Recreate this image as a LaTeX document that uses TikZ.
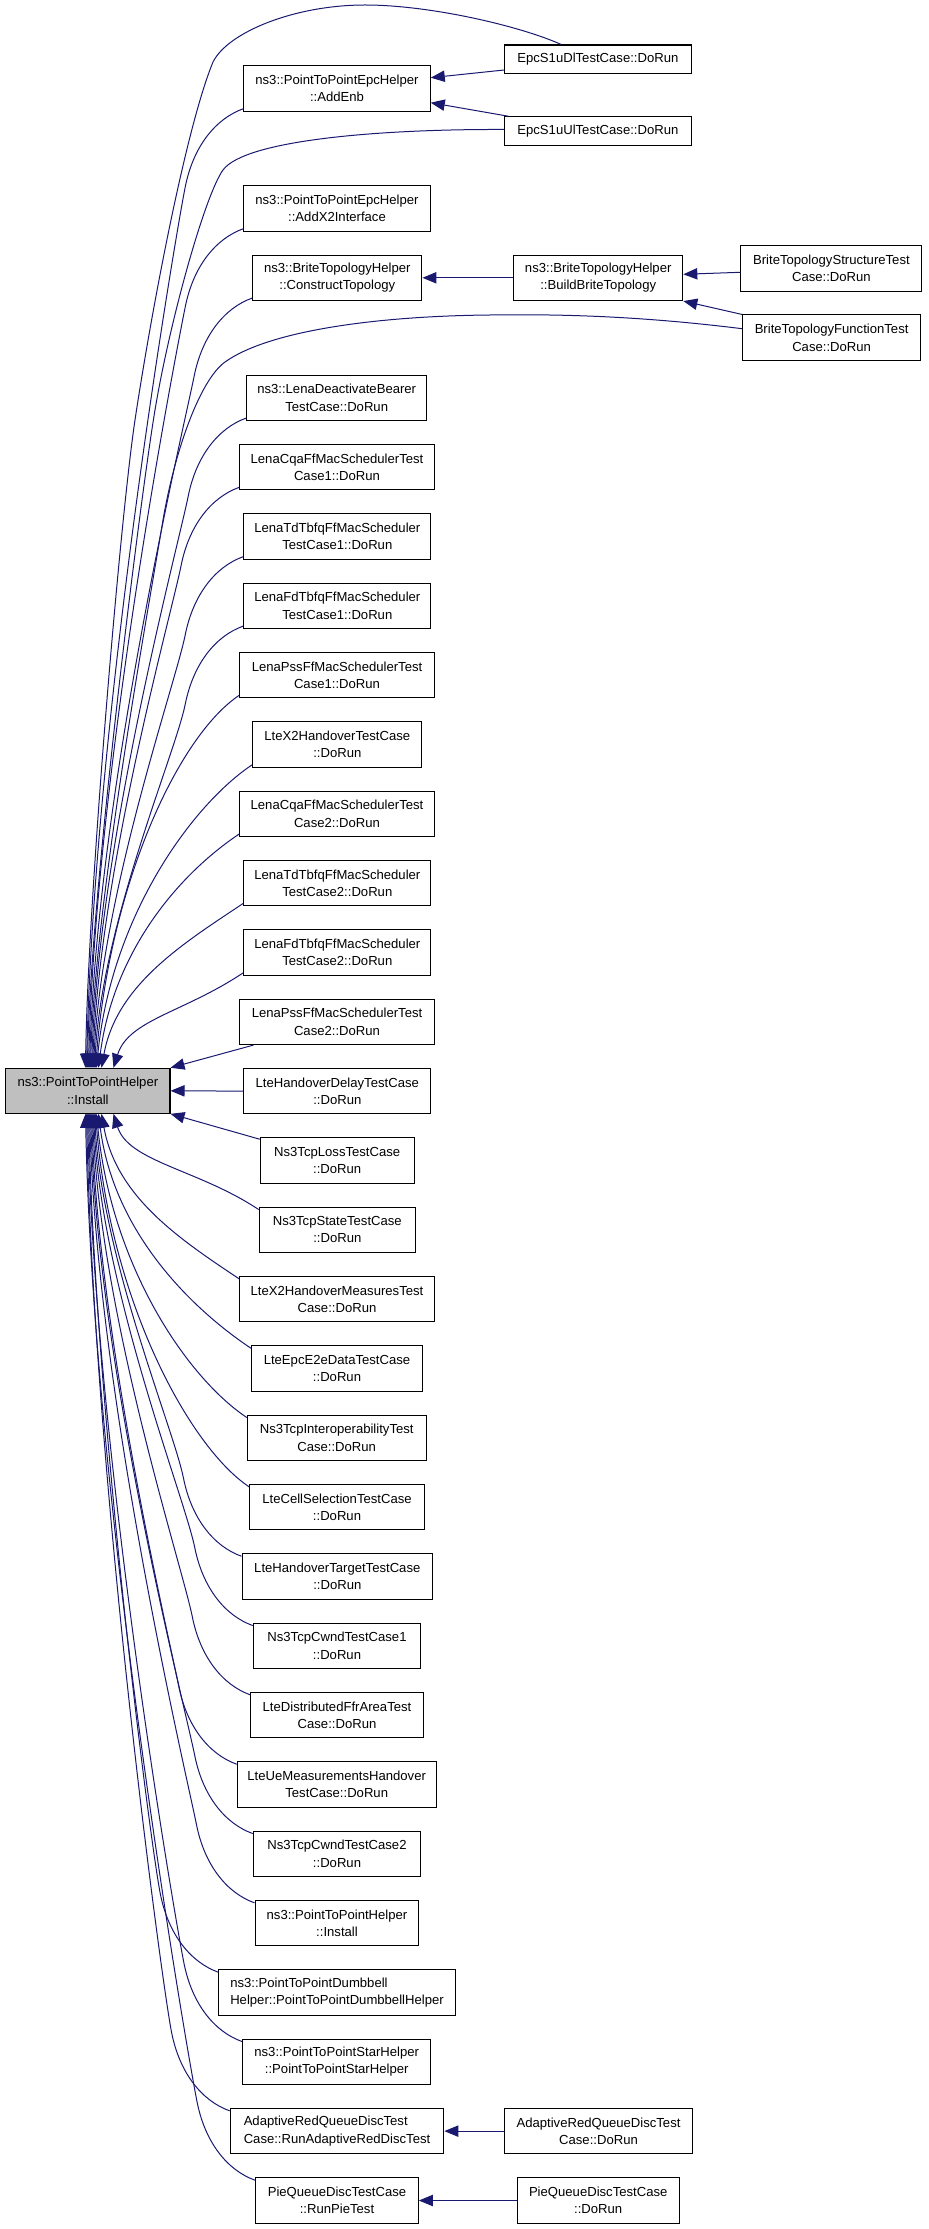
\documentclass[tikz,border=0pt]{standalone}
\usepackage{fontspec}
\setmainfont{Liberation Sans}
\usetikzlibrary{arrows.meta,calc}
\definecolor{edgec}{HTML}{191970}
\definecolor{mainfill}{HTML}{BFBFBF}
\newcommand\pfanup[3]{\draw[calledge] ($(#1.south west)+(0,-3)$) .. controls +(-28,10) and +(8,-40) .. ++(-58,78) .. controls +(-10,50) and +(8,-#3) .. ($(install.north west)+(#2,0)$);}
\newcommand\pfandown[3]{\draw[calledge] ($(#1.north west)+(0,3)$) .. controls +(-28,-10) and +(8,40) .. ++(-58,-78) .. controls +(-10,-50) and +(8,#3) .. ($(install.south west)+(#2,0)$);}
\newcommand\pnearup[3]{\draw[calledge] ($(#1.south west)+(0,-3)$) .. controls +(-60,40) and +(15,-#3) .. ($(install.north west)+(#2,0)$);}
\newcommand\pneardown[3]{\draw[calledge] ($(#1.north west)+(0,3)$) .. controls +(-60,-40) and +(15,#3) .. ($(install.south west)+(#2,0)$);}
\begin{document}
\begin{tikzpicture}[x=0.75pt,y=-0.75pt,
  box/.style={draw=black, fill=white, line width=0.8pt, inner sep=0pt, align=center,
    minimum height=34.1pt, font=\fontsize{9.83}{12.98}\selectfont},
  onebox/.style={box, minimum height=21.3pt},
  mainbox/.style={box, fill=mainfill},
  calledge/.style={draw=edgec, line width=0.75pt, -{Triangle[length=10.5pt,width=8.5pt]}}]
\useasboundingbox (0,0) rectangle (928,2229);
% main node
\node[mainbox, minimum width=123.2pt, minimum height=33.75pt] (install) at (87.85,1090.8) {ns3::PointToPointHelper\\::Install};
% second column
\node[box, minimum width=139.8pt] (addenb) at (337,88.5) {ns3::PointToPointEpcHelper\\::AddEnb};
\node[box, minimum width=139.8pt] (addx2) at (337,208.5) {ns3::PointToPointEpcHelper\\::AddX2Interface};
\node[box, minimum width=126.9pt] (construct) at (337.3,277.8) {ns3::BriteTopologyHelper\\::ConstructTopology};
\node[box, minimum width=134.9pt] (lenadeact) at (336.7,397.8) {ns3::LenaDeactivateBearer\\TestCase::DoRun};
\node[box, minimum width=146pt] (lenacqa1) at (337,467.1) {LenaCqaFfMacSchedulerTest\\Case1::DoRun};
\node[box, minimum width=140.25pt] (lenatd1) at (337.3,536.4) {LenaTdTbfqFfMacScheduler\\TestCase1::DoRun};
\node[box, minimum width=140.25pt] (lenafd1) at (337.3,605.8) {LenaFdTbfqFfMacScheduler\\TestCase1::DoRun};
\node[box, minimum width=146pt] (lenapss1) at (337,675.1) {LenaPssFfMacSchedulerTest\\Case1::DoRun};
\node[box, minimum width=126.9pt] (ltex2) at (337.3,744.5) {LteX2HandoverTestCase\\::DoRun};
\node[box, minimum width=146pt] (lenacqa2) at (337,813.8) {LenaCqaFfMacSchedulerTest\\Case2::DoRun};
\node[box, minimum width=140.25pt] (lenatd2) at (337.3,883.1) {LenaTdTbfqFfMacScheduler\\TestCase2::DoRun};
\node[box, minimum width=140.25pt] (lenafd2) at (337.3,952.5) {LenaFdTbfqFfMacScheduler\\TestCase2::DoRun};
\node[box, minimum width=146pt] (lenapss2) at (337,1021.8) {LenaPssFfMacSchedulerTest\\Case2::DoRun};
\node[box, minimum width=140.25pt] (ltehodelay) at (337.3,1091.1) {LteHandoverDelayTestCase\\::DoRun};
\node[box, minimum width=115.3pt] (ns3tcploss) at (337.2,1160.5) {Ns3TcpLossTestCase\\::DoRun};
\node[box, minimum width=117.2pt] (ns3tcpstate) at (337.3,1229.8) {Ns3TcpStateTestCase\\::DoRun};
\node[box, minimum width=146pt] (ltex2meas) at (337,1299.1) {LteX2HandoverMeasuresTest\\Case::DoRun};
\node[box, minimum width=128.25pt] (lteepc) at (337,1368.5) {LteEpcE2eDataTestCase\\::DoRun};
\node[box, minimum width=134pt] (ns3tcpinterop) at (336.7,1437.8) {Ns3TcpInteroperabilityTest\\Case::DoRun};
\node[box, minimum width=131pt] (ltecellsel) at (337,1507.1) {LteCellSelectionTestCase\\::DoRun};
\node[box, minimum width=142.9pt] (ltehotarget) at (337.3,1576.5) {LteHandoverTargetTestCase\\::DoRun};
\node[box, minimum width=125.6pt] (ns3tcpcwnd1) at (337,1645.8) {Ns3TcpCwndTestCase1\\::DoRun};
\node[box, minimum width=129.2pt] (ltedistffr) at (337,1715.1) {LteDistributedFfrAreaTest\\Case::DoRun};
\node[box, minimum width=149.1pt] (lteuemeas) at (336.7,1784.5) {LteUeMeasurementsHandover\\TestCase::DoRun};
\node[box, minimum width=125.6pt] (ns3tcpcwnd2) at (337,1853.8) {Ns3TcpCwndTestCase2\\::DoRun};
\node[box, minimum width=122.9pt] (p2pinstall) at (337,1923.1) {ns3::PointToPointHelper\\::Install};
\node[box, align=left, minimum width=177.1pt] (dumbbell) at (337,1992.5) {ns3::PointToPointDumbbell\\Helper::PointToPointDumbbellHelper};
\node[box, minimum width=141.2pt] (star) at (336.7,2061.8) {ns3::PointToPointStarHelper\\::PointToPointStarHelper};
\node[box, align=left, minimum width=160.2pt] (adaptivered) at (337,2131.1) {AdaptiveRedQueueDiscTest\\Case::RunAdaptiveRedDiscTest};
\node[box, minimum width=122pt] (piequeue) at (337,2200.5) {PieQueueDiscTestCase\\::RunPieTest};
% third column
\node[onebox, minimum width=139.8pt] (epcdl) at (597.9,59.2) {EpcS1uDlTestCase::DoRun};
\node[onebox, minimum width=139.8pt] (epcul) at (597.9,131) {EpcS1uUlTestCase::DoRun};
\node[box, minimum width=126.9pt] (buildbrite) at (598.2,277.8) {ns3::BriteTopologyHelper\\::BuildBriteTopology};
\node[box, minimum width=140.7pt] (adaptivereddorun) at (598.5,2131.1) {AdaptiveRedQueueDiscTest\\Case::DoRun};
\node[box, minimum width=121.6pt] (piedorun) at (598.2,2200.5) {PieQueueDiscTestCase\\::DoRun};
% fourth column
\node[box, minimum width=135.8pt] (structure) at (831.4,268.4) {BriteTopologyStructureTest\\Case::DoRun};
\node[box, minimum width=133.6pt] (function) at (831.6,337.7) {BriteTopologyFunctionTest\\Case::DoRun};
% edges into Install from above
\draw[calledge] ($(epcdl.north west)+(57,0)$) .. controls (520,26) and (430,5) .. (365,5)
  .. controls (295,5) and (228,32) .. (213,62) .. controls (185,130) and (150,320) .. (135,420)
  .. controls (120,520) and (88,900) .. ($(install.north west)+(80.3,0)$);
\draw[calledge] ($(epcul.west)+(0,-1.5)$) .. controls (380,129) and (245,140) .. (223,170)
  .. controls (205,195) and (170,320) .. (155,410)
  .. controls (140,500) and (90,900) .. ($(install.north west)+(82.3,0)$);
\draw[calledge] ($(function.west)+(0,-9)$) .. controls (640,316) and (560,314) .. (490,315)
  .. controls (380,316) and (270,330) .. (225,362) .. controls (200,380) and (175,450) .. (163,520)
  .. controls (150,600) and (95,900) .. ($(install.north west)+(85.3,0)$);
\pfanup{addenb}{81.3}{353}
\pfanup{addx2}{83.3}{305}
\pfanup{construct}{84.3}{277}
\pfanup{lenadeact}{86.3}{229}
\pfanup{lenacqa1}{87.3}{201}
\pfanup{lenatd1}{88.3}{174}
\pfanup{lenafd1}{89.3}{146}
\pnearup{lenapss1}{90.3}{187}
\pnearup{ltex2}{91.3}{152}
\pnearup{lenacqa2}{93.3}{117}
\pnearup{lenatd2}{96.3}{83}
\pnearup{lenafd2}{108.3}{48}
\draw[calledge] ($(lenapss2.south west)+(14.4,0)$) -- (install.north east);
\draw[calledge] (ltehodelay.west) -- (install.east);
\draw[calledge] ($(ns3tcploss.north west)+(0,2)$) -- (install.south east);
% edges into Install from below
\pneardown{ns3tcpstate}{108.3}{48}
\pneardown{ltex2meas}{96.3}{83}
\pneardown{lteepc}{93.3}{118}
\pneardown{ns3tcpinterop}{91.3}{152}
\pneardown{ltecellsel}{90.3}{187}
\pfandown{ltehotarget}{89.3}{146}
\pfandown{ns3tcpcwnd1}{88.3}{174}
\pfandown{ltedistffr}{87.3}{202}
\pfandown{lteuemeas}{86.3}{229}
\pfandown{ns3tcpcwnd2}{85.3}{257}
\pfandown{p2pinstall}{84.3}{285}
\pfandown{dumbbell}{83.3}{312}
\pfandown{star}{82.3}{340}
\pfandown{adaptivered}{81.3}{368}
\pfandown{piequeue}{80.3}{396}
% other edges
\draw[calledge] ($(epcdl.west)+(0,10.8)$) -- ($(addenb.east)+(0,-10.8)$);
\draw[calledge] ($(epcul.north west)+(4.3,0)$) -- ($(addenb.east)+(0,14.2)$);
\draw[calledge] (buildbrite.west) -- (construct.east);
\draw[calledge] ($(structure.west)+(0,3.9)$) -- ($(buildbrite.east)+(0,-3.5)$);
\draw[calledge] (function.north west) -- (buildbrite.south east);
\draw[calledge] (adaptivereddorun.west) -- (adaptivered.east);
\draw[calledge] (piedorun.west) -- (piequeue.east);
\end{tikzpicture}
\end{document}
